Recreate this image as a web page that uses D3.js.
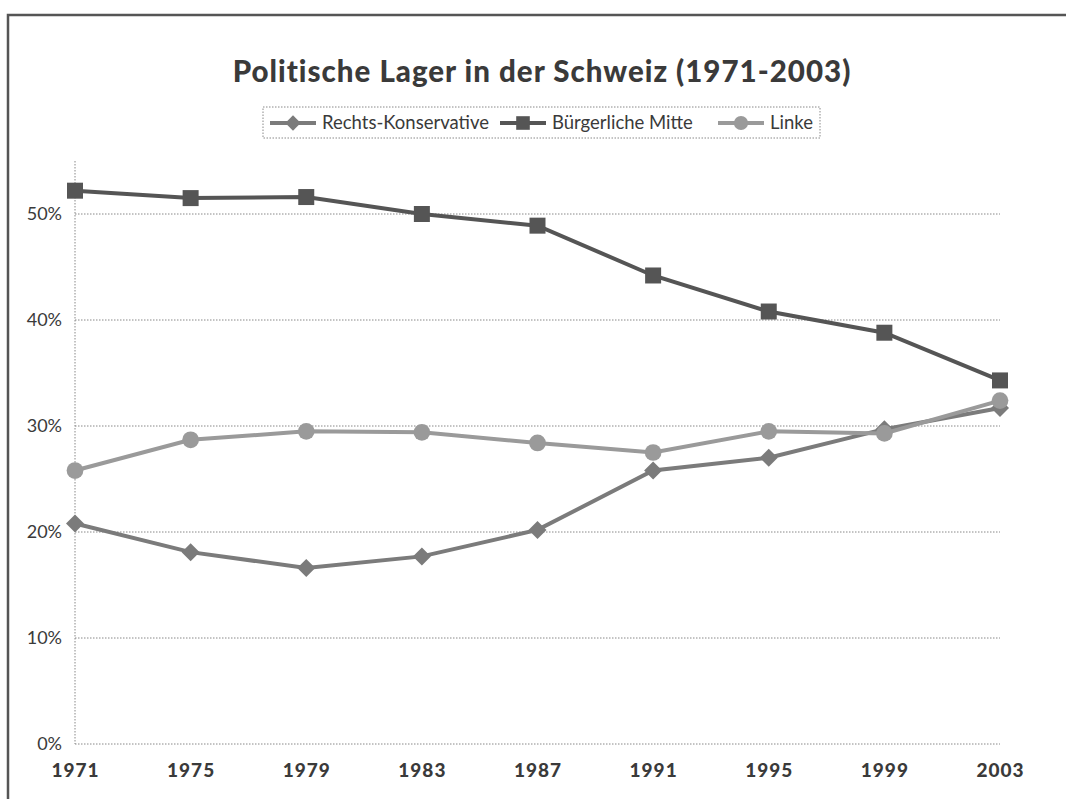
<!DOCTYPE html>
<html>
<head>
<meta charset="utf-8">
<script src="https://cdn.jsdelivr.net/npm/d3@7"></script>
<style>
    body { margin: 0; background: #fff; }
    svg text { font-family: "Lato", "Open Sans", sans-serif; fill: #3a3a3a; }
</style>
</head>
<body>
<div id="chart"></div>
<script>
// Data (percent)
const years = [1971, 1975, 1979, 1983, 1987, 1991, 1995, 1999, 2003];
const rechtsKonservative = [20.8, 18.1, 16.6, 17.7, 20.2, 25.8, 27.0, 29.7, 31.7];
const buergerlicheMitte = [52.2, 51.5, 51.6, 50.0, 48.9, 44.2, 40.8, 38.8, 34.3];
const linke = [25.8, 28.7, 29.5, 29.4, 28.4, 27.5, 29.5, 29.3, 32.4];
const yTicks = [0, 10, 20, 30, 40, 50];

const series = [
    { name: "Rechts-Konservative", values: rechtsKonservative, color: "#7b7b7b", marker: "diamond" },
    { name: "Bürgerliche Mitte", values: buergerlicheMitte, color: "#555555", marker: "square" },
    { name: "Linke", values: linke, color: "#9a9a9a", marker: "circle" }
];

const width = 1066, height = 799;
const svg = d3.select("#chart").append("svg")
    .attr("width", width)
    .attr("height", height);

// Outer frame (runs off right and bottom edge like the scan)
svg.append("path")
    .attr("d", "M8,820 V15 H1080")
    .attr("fill", "none")
    .attr("stroke", "#555")
    .attr("stroke-width", 2.5);

const x = d3.scalePoint().domain(years).range([75, 1000]);
const y = d3.scaleLinear().domain([0, 55]).range([744, 161]);

// Title
svg.append("text")
    .attr("x", 542)
    .attr("y", 82)
    .attr("text-anchor", "middle")
    .attr("font-size", 29.5)
    .attr("font-weight", 900)
    .attr("letter-spacing", 1)
    .attr("fill", "#333")
    .text("Politische Lager in der Schweiz (1971-2003)");

// Horizontal gridlines
svg.append("g")
    .selectAll("line")
    .data(yTicks)
    .join("line")
    .attr("x1", 75)
    .attr("x2", 1000)
    .attr("y1", d => y(d))
    .attr("y2", d => y(d))
    .attr("stroke", "#888")
    .attr("stroke-width", 1)
    .attr("stroke-dasharray", "1.5,1.5");

// Vertical axis line
svg.append("line")
    .attr("x1", 75).attr("x2", 75)
    .attr("y1", y(55)).attr("y2", y(0))
    .attr("stroke", "#888")
    .attr("stroke-dasharray", "1.5,1.5");

// Y axis labels
const yAxis = d3.axisLeft(y).tickValues(yTicks).tickFormat(d => d + "%").tickSize(0).tickPadding(13);
svg.append("g")
    .attr("transform", "translate(75,0)")
    .call(yAxis)
    .call(g => g.select(".domain").remove())
    .call(g => g.selectAll("text")
        .attr("font-size", 18)
        .attr("font-family", "Lato, sans-serif")
        .attr("fill", "#333"));

// X axis labels
const xAxis = d3.axisBottom(x).tickSize(0).tickPadding(20);
svg.append("g")
    .attr("transform", "translate(0,744)")
    .call(xAxis)
    .call(g => g.select(".domain").remove())
    .call(g => g.selectAll("text")
        .attr("font-size", 19)
        .attr("font-weight", 900)
        .attr("letter-spacing", 1)
        .attr("font-family", "Lato, sans-serif")
        .attr("fill", "#333"));

// Marker shapes
const markerPath = {
    diamond: "M0,-9 L9,0 L0,9 L-9,0 Z",
    square: d3.symbol().type(d3.symbolSquare).size(256)(),
    circle: d3.symbol().type(d3.symbolCircle).size(220)()
};

const line = d3.line()
    .x((d, i) => x(years[i]))
    .y(d => y(d));

series.forEach(s => {
    const g = svg.append("g");
    g.append("path")
        .attr("d", line(s.values))
        .attr("fill", "none")
        .attr("stroke", s.color)
        .attr("stroke-width", 4);
    g.selectAll("path.marker")
        .data(s.values)
        .join("path")
        .attr("class", "marker")
        .attr("transform", (d, i) => `translate(${x(years[i])},${y(d)})`)
        .attr("d", markerPath[s.marker])
        .attr("fill", s.color);
});

// Legend
const legend = svg.append("g");
legend.append("rect")
    .attr("x", 263).attr("y", 107)
    .attr("width", 557).attr("height", 31)
    .attr("fill", "none")
    .attr("stroke", "#888")
    .attr("stroke-dasharray", "1.5,1.5");

const legendX = [270, 500, 718];
series.forEach((s, i) => {
    const lx = legendX[i];
    legend.append("line")
        .attr("x1", lx).attr("x2", lx + 46)
        .attr("y1", 123).attr("y2", 123)
        .attr("stroke", s.color)
        .attr("stroke-width", 4);
    legend.append("path")
        .attr("transform", `translate(${lx + 23},123) scale(0.85)`)
        .attr("d", markerPath[s.marker])
        .attr("fill", s.color);
    legend.append("text")
        .attr("x", lx + 52)
        .attr("y", 129)
        .attr("font-size", 18.5)
        .attr("fill", "#333")
        .text(s.name);
});
</script>
</body>
</html>
